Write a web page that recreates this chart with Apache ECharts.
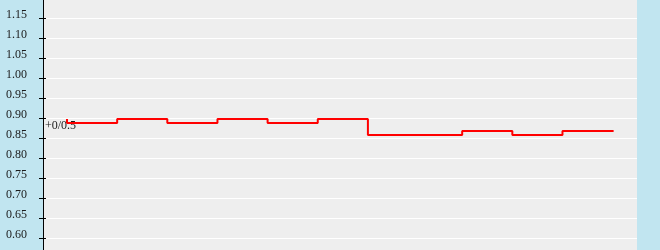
<!DOCTYPE html>
<html>
<head>
<meta charset="utf-8">
<script src="https://cdn.jsdelivr.net/npm/echarts@6/dist/echarts.min.js"></script>
<style>
html,body{margin:0;padding:0;background:#c1e5f0;overflow:hidden;}
#chart{position:absolute;left:0;top:-10px;width:660px;height:270px;}
</style>
</head>
<body>
<div id="chart"></div>
<script>
// step positions (in step units) and values
var xValues = [0, 1, 2, 3, 4, 5, 6, 7.88, 8.88, 9.88, 10.9];
var yValues = [0.899, 0.889, 0.899, 0.889, 0.899, 0.889, 0.899, 0.859, 0.869, 0.859, 0.869];
var startLabel = '+0/0.5';
var yMin = 0.55, yMax = 1.20, yInterval = 0.05;

var data = xValues.map(function (x, i) { return [x, yValues[i]]; });
var chart = echarts.init(document.getElementById('chart'), null, {renderer: 'canvas'});
var font = '"Liberation Serif", "Times New Roman", serif';
chart.setOption({
  animation: false,
  backgroundColor: '#c1e5f0',
  grid: {left: 43, right: 23, top: 8.5, bottom: 1.5, show: true, backgroundColor: '#eeeeee', borderWidth: 0},
  xAxis: {type: 'value', min: -0.479, max: 11.366, show: false},
  yAxis: [{
    type: 'value', min: yMin, max: yMax, interval: yInterval, position: 'left',
    axisLine: {show: true, onZero: false, lineStyle: {color: '#000', width: 1}},
    axisTick: {show: true, length: 4, lineStyle: {color: '#000'}},
    axisLabel: {show: true, showMinLabel: false, showMaxLabel: false, margin: 16, color: '#1a1a1a', fontFamily: font, fontSize: 12,
      verticalAlign: 'bottom', lineHeight: 7,
      formatter: function (v) { return v.toFixed(2); }},
    splitLine: {show: true, lineStyle: {color: '#ffffff', width: 1}}
  }, {
    type: 'value', min: yMin, max: yMax, interval: yInterval, position: 'left',
    axisLine: {show: false, onZero: false},
    axisTick: {show: true, inside: true, length: 3, lineStyle: {color: '#000'}},
    axisLabel: {show: false},
    splitLine: {show: false}
  }],
  series: [{
    type: 'line', step: 'start', data: data, symbol: 'none',
    lineStyle: {color: '#ff0000', width: 2}
  }],
  graphic: [{
    type: 'text', left: 45, top: 130,
    style: {text: startLabel, fill: '#1a1a1a', font: '12px ' + font}
  }]
});
</script>
</body>
</html>
